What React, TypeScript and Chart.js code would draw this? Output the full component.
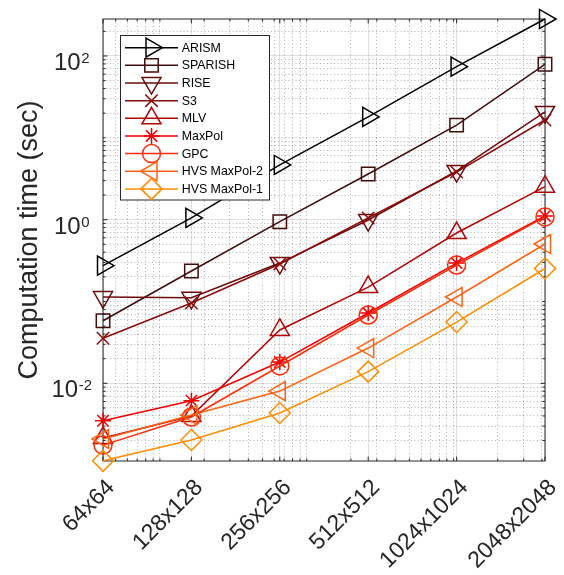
import React, { useEffect, useRef } from 'react';
import { Chart, registerables } from 'chart.js';
import { drawPoint } from 'chart.js/helpers';

Chart.register(...registerables);

// ---------- data ----------
const sizeLabels = ['64x64', '128x128', '256x256', '512x512', '1024x1024', '2048x2048'];
const pixelCounts = [4096, 16384, 65536, 262144, 1048576, 4194304];

const seriesNames = ['ARISM', 'SPARISH', 'RISE', 'S3', 'MLV', 'MaxPol', 'GPC', 'HVS MaxPol-2', 'HVS MaxPol-1'];
const arism = [0.274, 1.05, 4.66, 18.0, 74.0, 283];
const sparish = [0.0582, 0.236, 0.944, 3.61, 14.3, 79.2];
const rise = [0.1135, 0.111, 0.295, 0.99, 3.93, 20.7];
const s3 = [0.0355, 0.096, 0.287, 1.05, 3.82, 16.5];
const mlv = [0.00215, 0.00399, 0.0449, 0.15, 0.687, 2.53];
const maxpol = [0.00349, 0.00614, 0.0182, 0.0723, 0.295, 1.11];
const gpc = [0.00176, 0.00388, 0.0163, 0.0684, 0.279, 1.08];
const hvsMaxPol2 = [0.00209, 0.0041, 0.00805, 0.027, 0.1135, 0.504];
const hvsMaxPol1 = [0.00113, 0.00203, 0.00434, 0.0139, 0.0561, 0.253];
const allSeries = [arism, sparish, rise, s3, mlv, maxpol, gpc, hvsMaxPol2, hvsMaxPol1];

const yMajorTicks = [0.01, 1, 100];
const yTickExponents = ['-2', '0', '2'];
const yTitle = 'Computation time (sec)';

// ---------- styles ----------
const FONT = '"Liberation Sans", Arial, Helvetica, sans-serif';
const AXIS_COLOR = '#262626';
const Y_MIN = 0.001125;
const Y_MAX = 283;

const seriesStyles = [
  { color: '#000000', pointStyle: 'triangle', rotation: 90, radius: 11 },
  { color: '#420c0c', pointStyle: 'rect', rotation: 0, radius: 9.5 },
  { color: '#6a0c0c', pointStyle: 'triangle', rotation: 180, radius: 11 },
  { color: '#8c0a0a', pointStyle: 'crossRot', rotation: 0, radius: 8.8 },
  { color: '#b00606', pointStyle: 'triangle', rotation: 0, radius: 11 },
  { color: '#f00000', pointStyle: 'star', rotation: 0, radius: 8 },
  { color: '#ff2a08', pointStyle: 'circle', rotation: 0, radius: 9 },
  { color: '#ff6212', pointStyle: 'triangle', rotation: 270, radius: 11 },
  { color: '#ff8c00', pointStyle: 'rectRot', rotation: 0, radius: 10.5 },
];

function buildXTicks() {
  const ticks: any[] = [];
  pixelCounts.forEach((v) => ticks.push({ value: v, major: true }));
  for (let e = 3; e <= 6; e++) {
    for (let m = 1; m <= 9; m++) {
      const v = m * Math.pow(10, e);
      if (v > pixelCounts[0] && v < pixelCounts[pixelCounts.length - 1]) ticks.push({ value: v, major: false });
    }
  }
  ticks.sort((a, b) => a.value - b.value);
  return ticks;
}

function buildYTicks() {
  const ticks: any[] = [];
  for (let e = -3; e <= 2; e++) {
    for (let m = 1; m <= 9; m++) {
      const v = m * Math.pow(10, e);
      if (v >= Y_MIN && v <= Y_MAX) {
        ticks.push({ value: v, major: m === 1 && yMajorTicks.some((t) => Math.abs(t - v) / t < 1e-9) });
      }
    }
  }
  return ticks;
}

const matlabPlugin = {
  id: 'matlabAxes',
  beforeDatasetsDraw(chart: any) {
    const { ctx, chartArea: a, scales } = chart;
    const xs = scales.x;
    const ys = scales.y;
    ctx.save();
    ctx.strokeStyle = AXIS_COLOR;
    ctx.lineWidth = 1;
    ctx.beginPath();
    xs.ticks.forEach((t: any) => {
      const px = xs.getPixelForValue(t.value);
      const len = t.major ? 4.4 : 2.6;
      ctx.moveTo(px, a.bottom);
      ctx.lineTo(px, a.bottom - len);
      ctx.moveTo(px, a.top);
      ctx.lineTo(px, a.top + len);
    });
    ys.ticks.forEach((t: any) => {
      const py = ys.getPixelForValue(t.value);
      const len = t.major ? 4.4 : 2.6;
      ctx.moveTo(a.left, py);
      ctx.lineTo(a.left + len, py);
      ctx.moveTo(a.right, py);
      ctx.lineTo(a.right - len, py);
    });
    ctx.stroke();
    ctx.strokeRect(a.left, a.top, a.right - a.left, a.bottom - a.top);
    ctx.restore();
  },
  afterDraw(chart: any) {
    const { ctx, chartArea: a, scales } = chart;
    const xs = scales.x;
    const ys = scales.y;
    ctx.save();
    ctx.fillStyle = AXIS_COLOR;

    // y tick labels 10^k
    yMajorTicks.forEach((v, i) => {
      const py = ys.getPixelForValue(v);
      ctx.font = `24px ${FONT}`;
      const wBase = ctx.measureText('10').width;
      ctx.font = `15px ${FONT}`;
      const wExp = ctx.measureText(yTickExponents[i]).width;
      const left = 71.5 - (wBase + wExp) / 2;
      ctx.textAlign = 'left';
      ctx.textBaseline = 'alphabetic';
      ctx.font = `24px ${FONT}`;
      ctx.fillText('10', left, py + 14);
      ctx.font = `15px ${FONT}`;
      ctx.fillText(yTickExponents[i], left + wBase + 0.5, py + 7);
    });

    // x tick labels rotated
    ctx.font = `23px ${FONT}`;
    ctx.textAlign = 'right';
    ctx.textBaseline = 'middle';
    sizeLabels.forEach((lab, i) => {
      const px = xs.getPixelForValue(pixelCounts[i]);
      ctx.save();
      ctx.translate(px + 8, a.bottom + 23);
      ctx.rotate(-Math.PI / 4);
      ctx.fillText(lab, 0, 0);
      ctx.restore();
    });

    // y title
    ctx.save();
    ctx.font = `27px ${FONT}`;
    ctx.textAlign = 'center';
    ctx.textBaseline = 'alphabetic';
    ctx.translate(37.3, (a.top + a.bottom) / 2);
    ctx.rotate(-Math.PI / 2);
    ctx.fillText(yTitle, 0, 0);
    ctx.restore();

    // legend
    const bx = 120.5, by = 35.5, bw = 149, bh = 164.5;
    ctx.fillStyle = '#ffffff';
    ctx.fillRect(bx, by, bw, bh);
    ctx.strokeStyle = AXIS_COLOR;
    ctx.lineWidth = 1;
    ctx.strokeRect(bx, by, bw, bh);
    chart.data.datasets.forEach((ds: any, i: number) => {
      const y = 47.7 + i * 17.65;
      ctx.strokeStyle = ds.borderColor;
      ctx.lineWidth = 1.5;
      ctx.beginPath();
      ctx.moveTo(125, y);
      ctx.lineTo(178, y);
      ctx.stroke();
      ctx.fillStyle = 'rgba(0,0,0,0)';
      drawPoint(ctx, { pointStyle: ds.pointStyle, radius: ds.pointRadius, rotation: ds.pointRotation, borderWidth: 1.5 } as any, 151.5, y);
      ctx.fillStyle = '#000000';
      ctx.font = `12.4px ${FONT}`;
      ctx.textAlign = 'left';
      ctx.textBaseline = 'middle';
      ctx.fillText(ds.label, 181.7, y + 0.5);
    });
    ctx.restore();
  },
};

export default function App() {
  const ref = useRef<HTMLCanvasElement>(null);
  useEffect(() => {
    const datasets = allSeries.map((vals, i) => {
      const s = seriesStyles[i];
      return {
        label: seriesNames[i],
        data: pixelCounts.map((x, j) => ({ x, y: vals[j] })),
        borderColor: s.color,
        backgroundColor: 'rgba(0,0,0,0)',
        borderWidth: 1.5,
        pointStyle: s.pointStyle,
        pointRadius: s.radius,
        pointHoverRadius: s.radius,
        pointRotation: s.rotation,
        pointBorderColor: s.color,
        pointBackgroundColor: 'rgba(0,0,0,0)',
        pointBorderWidth: 1.5,
        tension: 0,
        fill: false,
        clip: false as any,
        order: allSeries.length - i,
      };
    });
    const chart = new Chart(ref.current as HTMLCanvasElement, {
      type: 'line',
      data: { datasets: datasets as any },
      options: {
        animation: false,
        responsive: false,
        maintainAspectRatio: false,
        events: [],
        layout: { padding: { left: 103, right: 19, top: 19, bottom: 114 } },
        plugins: { legend: { display: false }, tooltip: { enabled: false } },
        scales: {
          x: {
            type: 'logarithmic',
            min: pixelCounts[0],
            max: pixelCounts[pixelCounts.length - 1],
            afterBuildTicks: (scale: any) => { scale.ticks = buildXTicks(); },
            ticks: { display: false, autoSkip: false },
            grid: {
              drawTicks: false,
              lineWidth: 1,
              color: (c: any) => (c.tick && c.tick.major ? 'rgba(38,38,38,0.15)' : 'rgba(38,38,38,0.35)'),
            },
            border: { display: false, dash: (c: any) => (c.tick && c.tick.major ? [] : [1, 2.5]) },
          },
          y: {
            type: 'logarithmic',
            min: Y_MIN,
            max: Y_MAX,
            afterBuildTicks: (scale: any) => { scale.ticks = buildYTicks(); },
            ticks: { display: false, autoSkip: false },
            grid: {
              drawTicks: false,
              lineWidth: 1,
              color: (c: any) => (c.tick && c.tick.major ? 'rgba(38,38,38,0.15)' : 'rgba(38,38,38,0.35)'),
            },
            border: { display: false, dash: (c: any) => (c.tick && c.tick.major ? [] : [1, 2.5]) },
          },
        },
      } as any,
      plugins: [matlabPlugin],
    });
    return () => chart.destroy();
  }, []);
  return (
    <div style={{ position: 'fixed', left: 0, top: 0, width: 564, height: 575, background: '#ffffff' }}>
      <canvas ref={ref} width={564} height={575} style={{ display: 'block', width: 564, height: 575 }} />
    </div>
  );
}
